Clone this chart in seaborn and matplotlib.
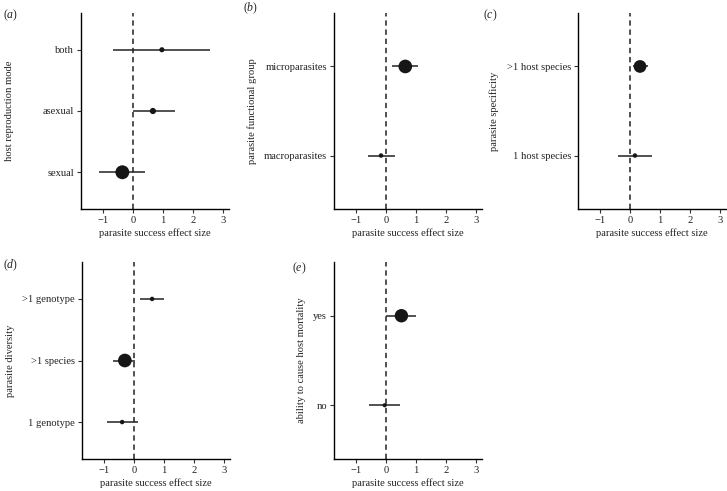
import numpy as np
import pandas as pd
import matplotlib
matplotlib.use("Agg")
import matplotlib.pyplot as plt
import seaborn as sns

# ---------------- data ----------------
# (a) host reproduction mode (bottom -> top)
a_cats = ["sexual", "asexual", "both"]
a_est = [-0.36, 0.66, 0.96]
a_lo = [-1.14, 0.01, -0.66]
a_hi = [0.40, 1.39, 2.57]
a_w = [60, 10, 6]

# (b) parasite functional group
b_cats = ["macroparasites", "microparasites"]
b_est = [-0.17, 0.64]
b_lo = [-0.62, 0.20]
b_hi = [0.31, 1.08]
b_w = [4, 58]

# (c) parasite specificity
c_cats = ["1 host species", ">1 host species"]
c_est = [0.16, 0.33]
c_lo = [-0.40, 0.11]
c_hi = [0.73, 0.61]
c_w = [4, 50]

# (d) parasite diversity
d_cats = ["1 genotype", ">1 species", ">1 genotype"]
d_est = [-0.40, -0.31, 0.60]
d_lo = [-0.92, -0.70, 0.20]
d_hi = [0.13, 0.02, 0.99]
d_w = [4, 58, 4]

# (e) ability to cause host mortality
e_cats = ["no", "yes"]
e_est = [-0.05, 0.51]
e_lo = [-0.58, 0.00]
e_hi = [0.47, 1.00]
e_w = [3, 56]

y_titles = ["host reproduction mode", "parasite functional group",
            "parasite specificity", "parasite diversity",
            "ability to cause host mortality"]
panel_letters = ["a", "b", "c", "d", "e"]
x_title = "parasite success effect size"
x_ticks = [-1, 0, 1, 2, 3]

# ---------------- style ----------------
sns.set_theme(style="white")
plt.rcParams["font.family"] = ["Liberation Serif", "DejaVu Serif"]
plt.rcParams["mathtext.fontset"] = "custom"
plt.rcParams["mathtext.it"] = "Liberation Serif:italic"
plt.rcParams["mathtext.rm"] = "Liberation Serif"

W, H = 727, 491
fig = plt.figure(figsize=(W / 100, H / 100), dpi=100)

def px_axes(left, top, right, bottom):
    return fig.add_axes([left / W, 1 - bottom / H, (right - left) / W, (bottom - top) / H])

panels = [
    (a_cats, a_est, a_lo, a_hi, a_w, (81, 13, 229, 209), (3, 15), -0.45),
    (b_cats, b_est, b_lo, b_hi, b_w, (334, 13, 482, 209), (243, 8), -0.52),
    (c_cats, c_est, c_lo, c_hi, c_w, (578, 13, 726, 209), (483, 15), -0.535),
    (d_cats, d_est, d_lo, d_hi, d_w, (82, 262, 230, 459), (3, 265), -0.455),
    (e_cats, e_est, e_lo, e_hi, e_w, (334, 262, 482, 459), (292, 268), -0.19),
]

ink = "#161616"
fs = 7.6

for i, (cats, est, lo, hi, w, box, lab_xy, ylab_x) in enumerate(panels):
    ax = px_axes(*box)
    df = pd.DataFrame({"cat": cats, "est": est, "lo": lo, "hi": hi, "w": w})
    ax.axvline(0, color="#222222", lw=1.1, ls=(0, (3.5, 2.5)), zorder=1)
    sns.scatterplot(data=df, x="est", y="cat", size="w", sizes=(4, 100),
                    size_norm=(0, 60), color=ink, linewidth=0, legend=False,
                    ax=ax, zorder=3)
    ax.hlines(df["cat"], df["lo"], df["hi"], color="#222222", lw=1.1, zorder=2)
    ax.set_xlim(-1.74, 3.2)
    ax.set_ylim(-0.6, len(cats) - 0.4)
    ax.set_xticks(x_ticks)
    ax.set_xticklabels([str(t).replace("-", "\u2212") for t in x_ticks])
    ax.set_xlabel(x_title, fontsize=fs, labelpad=2.5, color="#222222")
    ax.set_ylabel(y_titles[i], fontsize=fs, color="#222222")
    ax.yaxis.set_label_coords(ylab_x, 0.5)
    for s in ["top", "right"]:
        ax.spines[s].set_visible(False)
    for s in ["left", "bottom"]:
        ax.spines[s].set_color("black")
        ax.spines[s].set_linewidth(1.0)
    ax.tick_params(axis="both", which="both", length=3, width=0.8,
                   color="#333333", labelsize=fs, labelcolor="#222222",
                   left=True, bottom=True, pad=2)
    ax.set_facecolor("white")
    fig.text(lab_xy[0] / W, 1 - lab_xy[1] / H, "($\\mathit{" + panel_letters[i] + "}$)",
             fontsize=8.5, ha="left", va="center", color="#222222")

fig.savefig("out.png", dpi=100, facecolor="white")
